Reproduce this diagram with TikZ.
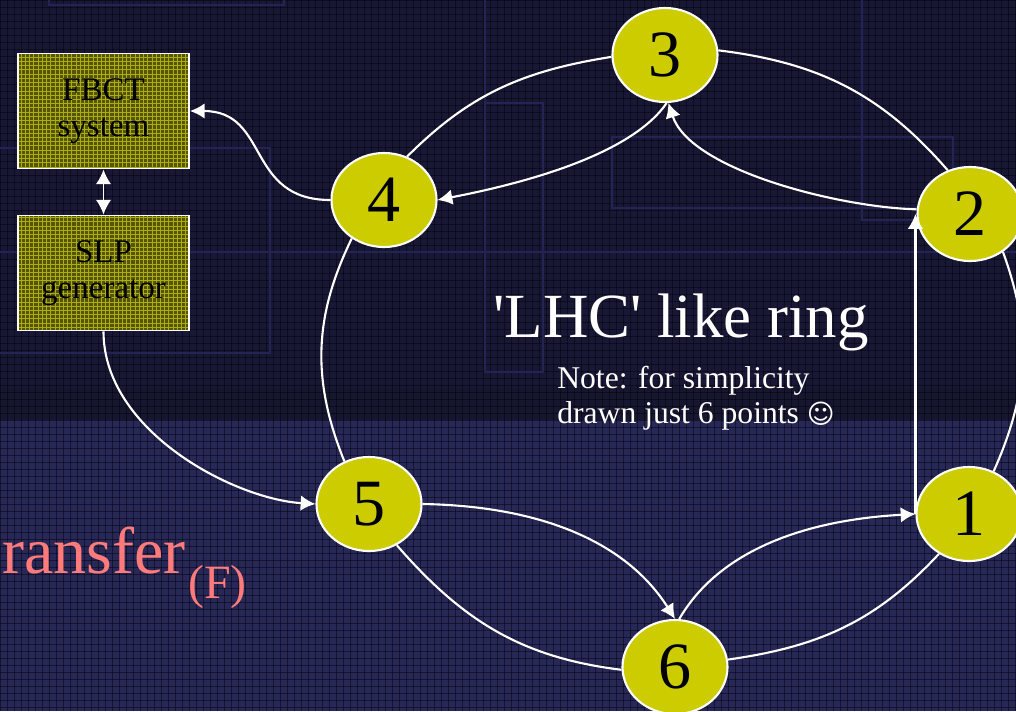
\documentclass[tikz,border=0pt]{standalone}
\usepackage{fontspec}
\setmainfont{Liberation Serif}
\newfontfamily\dejavu{DejaVu Sans}
\usetikzlibrary{arrows.meta,shapes.geometric,patterns}
\definecolor{bgtop}{RGB}{24,24,54}
\definecolor{bgbot}{RGB}{40,40,88}
\definecolor{faint}{RGB}{36,36,84}
\definecolor{nodeyel}{RGB}{204,204,0}
\definecolor{boxolive}{RGB}{84,84,14}
\definecolor{boxgrid}{RGB}{175,175,0}
\definecolor{salmon}{RGB}{255,122,122}
\begin{document}
\begin{tikzpicture}[x=0.025cm,y=0.025cm,
  ringnode/.style={ellipse,draw=white,line width=1.5pt,fill=nodeyel,minimum width=2.625cm,minimum height=2.35cm,inner sep=0pt,font=\fontsize{47}{47}\selectfont},
  boxnode/.style={rectangle,draw=white,line width=1.3pt,preaction={fill=boxolive},pattern=grid,pattern color=boxgrid,minimum width=4.275cm,minimum height=2.875cm,align=center,inner sep=0pt,font=\fontsize{23.5}{25.5}\selectfont},
  ring/.style={draw=white,line width=1.5pt},
  flow/.style={draw=white,line width=1.5pt,-{Latex[length=10.5pt,width=11pt]}},
  faintline/.style={draw=faint,line width=1pt},
  label/.style={anchor=base west,inner sep=0pt,text=white}
]
\useasboundingbox (0,0) rectangle (1016,-711);
\clip (0,0) rectangle (1016,-711);
% background
\fill[bgtop] (0,0) rectangle (1016,-420);
\fill[bgbot] (0,-420) rectangle (1016,-711);
\fill[black,opacity=0.08] (0,-388) rectangle (1016,-420);
\foreach \i in {0,...,145} \draw[black,opacity=0.45,line width=0.4pt] (\i*7,0) -- (\i*7,-711);
\foreach \j in {0,...,102} \draw[black,opacity=0.45,line width=0.4pt] (0,-\j*7) -- (1016,-\j*7);
% faint decorations
\draw[faintline] (49,0) -- (49,-5) -- (284,-5) -- (284,0);
\draw[faintline] (0,-148) -- (270,-148) -- (270,-353) -- (0,-353);
\draw[faintline] (0,-252) -- (1016,-252);
\draw[faintline] (485,0) -- (485,-372) -- (543,-372) -- (543,-103) -- (485,-103);
\draw[faintline] (612,-137) rectangle (953,-208);
\draw[faintline] (862,0) -- (862,-220) -- (953,-220);
% boxes
\node[boxnode] (fbct) at (103.5,-111) {FBCT\\system};
\node[boxnode] (slp) at (103.5,-273) {SLP\\generator};
% ring nodes
\node[ringnode] (n3) at (665,-55) {3};
\node[ringnode] (n2) at (970,-214) {2};
\node[ringnode] (n1) at (969,-514) {1};
\node[ringnode] (n6) at (675,-667) {6};
\node[ringnode] (n5) at (369,-504) {5};
\node[ringnode] (n4) at (384,-200) {4};
% texts
\node[label,font=\fontsize{44.7}{50}\selectfont] (title) at (493,-337) {\textquotesingle LHC\textquotesingle{} like ring};
\node[label,font=\fontsize{22.5}{25}\selectfont] (note1) at (557,-388) {Note: for simplicity};
\node[label,font=\fontsize{22.5}{25}\selectfont] (note2) at (557,-423) {drawn just 6 points {\dejavu\fontsize{19}{19}\selectfont ☺}};
\node[anchor=base east,inner sep=0pt,text=salmon,font=\fontsize{47}{50}\selectfont] (tr) at (186,-573) {ransfer};
\node[anchor=base west,inner sep=0pt,text=salmon,font=\fontsize{34}{36}\selectfont] (trsub) at (188,-598) {(F)};
% ring arcs
\draw[ring] (n3.5) to[out=-7,in=131] (n2.117);
\draw[ring] (n2.-49) to[out=-70,in=66] (n1.60);
\draw[ring] (n1.-127) to[out=-133,in=8] (n6.8);
\draw[ring] (n6.183) to[out=173,in=-49] (n5.-56);
\draw[ring] (n5.120) to[out=112,in=-116] (n4.-130);
\draw[ring] (n4.62) to[out=45,in=-171] (n3.182);
% flow arrows
\draw[flow] (slp.south) .. controls +(0,-100) and +(-81,5) .. (n5.west);
\draw[flow] (n5.east) .. controls +(120,-2) and +(-48,76) .. (n6.north);
\draw[flow] (n6.85) .. controls +(40,69) and +(-110,-6) .. (n1.west);
\draw[flow] (n1.west) -- (n1.west |- n2.west);
\draw[flow] (n2.175) .. controls +(-78,2) and +(22,-67) .. (n3.-86);
\draw[flow] (n3.-88) .. controls +(-34,-49) and +(98,19) .. (n4.east);
\draw[flow] (n4.west) .. controls +(-85,0) and +(80,0) .. (fbct.east);
\draw[white,line width=1.4pt,{Latex[length=10.5pt,width=11pt]}-{Latex[length=10.5pt,width=11pt]}] (fbct.south) -- (slp.north);
\end{tikzpicture}
\end{document}
